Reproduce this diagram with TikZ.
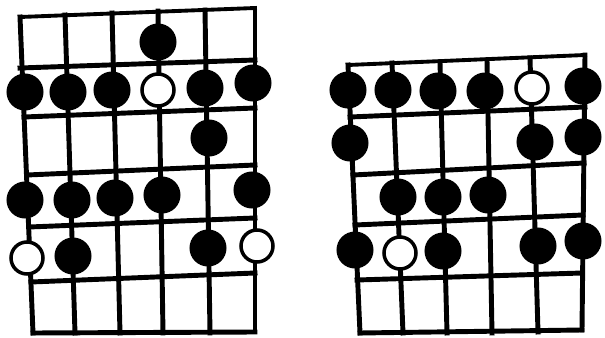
\documentclass[tikz,border=0pt]{standalone}
\usepackage{tikz}
\usetikzlibrary{positioning}

\begin{document}
\begin{tikzpicture}[
  x=0.05cm,y=-0.05cm,
  gridline/.style={line width=7pt,line cap=rect,black},
  edgeline/.style={line width=5.5pt,line cap=rect,black},
  fulldot/.style={circle,draw=black,fill=black,line width=2pt,minimum size=1.78cm,inner sep=0pt},
  opendot/.style={circle,draw=black,fill=white,line width=5pt,minimum size=1.6cm,inner sep=0pt}
]
\useasboundingbox (0,0) rectangle (605,338);

% left neck
\foreach \xa/\ya/\xb/\yb in {20/68/255/60,24/117/255/108,27/175/255/165,29/227/255/218,31/282/255/273,33/333/255/332}
  \draw[gridline] (\xa,\ya) -- (\xb,\yb);
\draw[edgeline] (20,17) -- (255,8);
\foreach \xa/\ya/\xb/\yb in {20/17/33/333,65/15/75/333,112/13/120/333,158/11/163/333,205/10/210/333,255/8/255/332}
  \draw[gridline] (\xa,\ya) -- (\xb,\yb);

% right neck
\foreach \xa/\ya/\xb/\yb in {350/117/585/107,353/175/584/163,355/225/583/215,357/280/582/273,360/333/582/330}
  \draw[gridline] (\xa,\ya) -- (\xb,\yb);
\draw[edgeline] (348,65) -- (585,55);
\foreach \xa/\ya/\xb/\yb in {348/65/360/333,392/63/403/333,440/62/447/333,487/60/492/333,530/58/538/332,585/55/582/330}
  \draw[gridline] (\xa,\ya) -- (\xb,\yb);

% left neck dots
\node[fulldot] (la4) at (158,42) {};
\node[fulldot] (lb1) at (25,92) {};
\node[fulldot] (lb2) at (68,92) {};
\node[fulldot] (lb3) at (112,90) {};
\node[opendot] (lb4) at (158,90) {};
\node[fulldot] (lb5) at (205,88) {};
\node[fulldot] (lb6) at (253,83) {};
\node[fulldot] (lc5) at (209,138) {};
\node[fulldot] (ld1) at (25,200) {};
\node[fulldot] (ld2) at (72,200) {};
\node[fulldot] (ld3) at (115,198) {};
\node[fulldot] (ld4) at (162,195) {};
\node[fulldot] (ld6) at (252,190) {};
\node[opendot] (le1) at (27,258) {};
\node[fulldot] (le2) at (73,256) {};
\node[fulldot] (le5) at (208,248) {};
\node[opendot] (le6) at (257,246) {};

% right neck dots
\node[fulldot] (ra1) at (348,90) {};
\node[fulldot] (ra2) at (393,90) {};
\node[fulldot] (ra3) at (438,91) {};
\node[fulldot] (ra4) at (485,91) {};
\node[opendot] (ra5) at (532,88) {};
\node[fulldot] (ra6) at (583,86) {};
\node[fulldot] (rb1) at (350,143) {};
\node[fulldot] (rb5) at (535,142) {};
\node[fulldot] (rb6) at (583,137) {};
\node[fulldot] (rc2) at (398,197) {};
\node[fulldot] (rc3) at (443,197) {};
\node[fulldot] (rc4) at (488,195) {};
\node[fulldot] (rd1) at (355,250) {};
\node[opendot] (rd2) at (400,253) {};
\node[fulldot] (rd3) at (443,251) {};
\node[fulldot] (rd5) at (538,246) {};
\node[fulldot] (rd6) at (583,241) {};
\end{tikzpicture}
\end{document}
